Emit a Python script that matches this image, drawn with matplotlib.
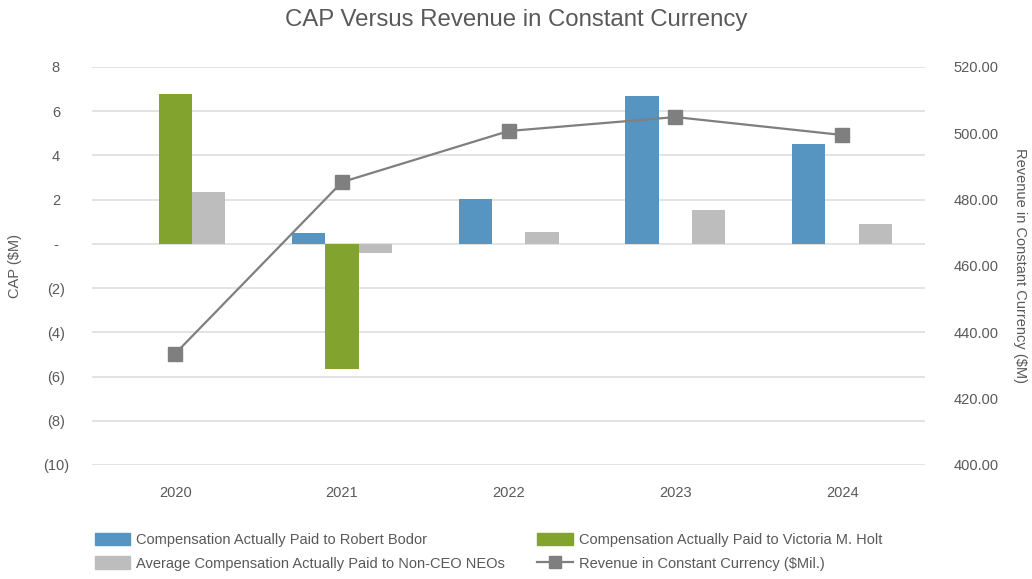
import matplotlib.pyplot as plt
import matplotlib.ticker as mticker
from matplotlib.lines import Line2D
from matplotlib.patches import Patch
import numpy as np

# ==========================================
# DATEN
# ==========================================
years = ["2020", "2021", "2022", "2023", "2024"]
cap_bodor = [np.nan, 0.49, 2.03, 6.71, 4.50]
cap_holt = [6.77, -5.65, np.nan, np.nan, np.nan]
cap_neos = [2.36, -0.42, 0.55, 1.55, 0.88]
revenue = [433.6, 485.3, 500.7, 504.9, 499.5]

left_ticks = [8, 6, 4, 2, 0, -2, -4, -6, -8, -10]
right_ticks = [400, 420, 440, 460, 480, 500, 520]

# Farben
c_bodor = "#5694C1"
c_holt = "#82A42F"
c_neos = "#BDBDBD"
c_line = "#7F7F7F"
c_text = "#595959"
c_grid = "#DEDEDE"

plt.rcParams["font.family"] = ["Liberation Sans", "DejaVu Sans"]

fig = plt.figure(figsize=(10.32, 5.79), dpi=100)
ax1 = fig.add_axes([0.0891, 0.1969, 0.8077, 0.6874])

x = np.arange(len(years))
w = 0.2

# Balken (links)
ax1.bar(x - w, cap_bodor, w, color=c_bodor, zorder=2)
ax1.bar(x, cap_holt, w, color=c_holt, zorder=2)
ax1.bar(x + w, cap_neos, w, color=c_neos, zorder=2)

ax1.set_xlim(-0.5, len(years) - 0.5)
ax1.set_ylim(-10, 8)
ax1.set_yticks(left_ticks)


def cap_fmt(v, pos):
    if abs(v) < 1e-9:
        return "-"
    if v < 0:
        return f"({int(round(-v))})"
    return f"{int(round(v))}"


ax1.yaxis.set_major_formatter(mticker.FuncFormatter(cap_fmt))
ax1.set_xticks(x)
ax1.set_xticklabels(years)
ax1.grid(axis="y", color=c_grid, linewidth=1.2, zorder=0)
ax1.set_axisbelow(True)
ax1.tick_params(axis="both", length=0, colors=c_text, labelsize=10.5)
ax1.tick_params(axis="x", pad=15)
ax1.tick_params(axis="y", pad=26)
for lbl in ax1.get_yticklabels():
    lbl.set_horizontalalignment("center")
ax1.set_ylabel("CAP ($M)", color=c_text, fontsize=10.5, va="center")
ax1.yaxis.set_label_coords(-0.092, 0.5)

# Umsatz (rechts)
ax2 = ax1.twinx()
ax2.plot(x, revenue, color=c_line, linewidth=1.6, marker="s", markersize=10,
         zorder=3)
ax2.set_ylim(400, 520)
ax2.set_yticks(right_ticks)
ax2.yaxis.set_major_formatter(mticker.FormatStrFormatter("%.2f"))
ax2.tick_params(axis="y", length=0, colors=c_text, labelsize=10.5, pad=20)
ax2.set_ylabel("Revenue in Constant Currency ($M)", color=c_text,
               fontsize=10.5, rotation=270, va="center")
ax2.yaxis.set_label_coords(1.113, 0.5)

for a in (ax1, ax2):
    for spine in a.spines.values():
        spine.set_visible(False)

fig.suptitle("CAP Versus Revenue in Constant Currency", color=c_text,
             fontsize=17.3, y=0.985)

# Legende
handles = [
    Patch(color=c_bodor, label="Compensation Actually Paid to Robert Bodor"),
    Patch(color=c_neos, label="Average Compensation Actually Paid to Non-CEO NEOs"),
    Patch(color=c_holt, label="Compensation Actually Paid to Victoria M. Holt"),
    Line2D([0], [0], color=c_line, linewidth=1.6, marker="s", markersize=8,
           label="Revenue in Constant Currency ($Mil.)"),
]
fig.legend(handles=handles, ncol=2, loc="lower left",
           bbox_to_anchor=(0.079, -0.008), frameon=False, fontsize=10.5,
           labelcolor=c_text, columnspacing=2.2, handlelength=2.45,
           handleheight=0.9, handletextpad=0.4, labelspacing=0.62)

fig.savefig("out.png", dpi=100)
plt.close(fig)
